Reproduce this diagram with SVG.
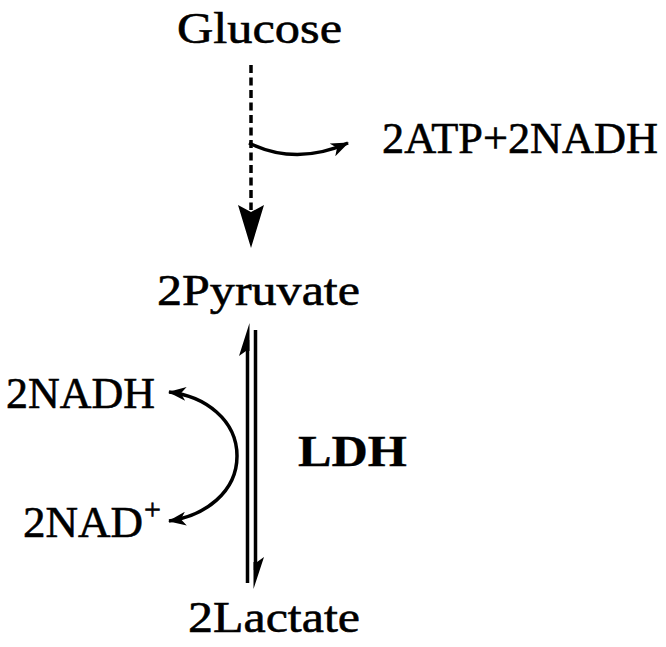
<svg xmlns="http://www.w3.org/2000/svg" width="666" height="647" viewBox="0 0 666 647">
<style>
  .t { font-family: "Liberation Serif", "Times New Roman", serif; font-size: 45px; fill: #000; stroke: #000; stroke-width: 0.6; }
  .b { font-weight: bold; stroke-width: 0.3; }
  .ln { fill: none; stroke: #000; stroke-width: 3.5; }
  .dash { stroke-dasharray: 8 4.5; }
  .hd { fill: #000; stroke: none; }
</style>
<defs>
  <marker id="arr" markerUnits="userSpaceOnUse" viewBox="0 0 18 14" refX="17" refY="7" markerWidth="18" markerHeight="14" orient="auto-start-reverse">
    <path d="M0,0 L18,7 L0,14 L5,7 z" fill="#000"/>
  </marker>
</defs>
<rect width="666" height="647" fill="#fff"/>

<g id="glucose"><text class="t" x="177" y="43" font-size="48" textLength="165" lengthAdjust="spacingAndGlyphs">Glucose</text></g>
<g id="atp"><text class="t" x="382" y="153" textLength="276" lengthAdjust="spacingAndGlyphs">2ATP+2NADH</text></g>
<g id="pyruvate"><text class="t" x="157" y="305" textLength="203" lengthAdjust="spacingAndGlyphs">2Pyruvate</text></g>
<g id="nadh"><text class="t" x="6" y="408" textLength="149" lengthAdjust="spacingAndGlyphs">2NADH</text></g>
<g id="nad"><text class="t" x="23" y="537" font-size="43">2NAD<tspan font-size="30" dx="1" dy="-18">+</tspan></text></g>
<g id="ldh"><text class="t b" x="298" y="466" font-size="48" textLength="109" lengthAdjust="spacingAndGlyphs">LDH</text></g>
<g id="lactate"><text class="t" x="188" y="632" textLength="172" lengthAdjust="spacingAndGlyphs">2Lactate</text></g>

<g id="connectors">
  <line class="ln dash" x1="251" y1="65" x2="251" y2="210"/>
  <polygon class="hd" points="251,248 238,205 251,212 264,205"/>
  <path class="ln" d="M249,143 Q296,166 348,143" stroke-width="3" marker-end="url(#arr)"/>
  <line class="ln" x1="247.5" y1="340" x2="247.5" y2="583"/>
  <polygon class="hd" points="249.5,323 239,356 246,351 249.5,351"/>
  <line class="ln" x1="255.5" y1="330" x2="255.5" y2="570"/>
  <polygon class="hd" points="253.5,589 264,557 257,562 253.5,562"/>
  <path class="ln" d="M169,392 C205,396 237,420 237,456 C237,492 205,516 169,521" stroke-width="3" marker-start="url(#arr)" marker-end="url(#arr)"/>
</g>
</svg>
